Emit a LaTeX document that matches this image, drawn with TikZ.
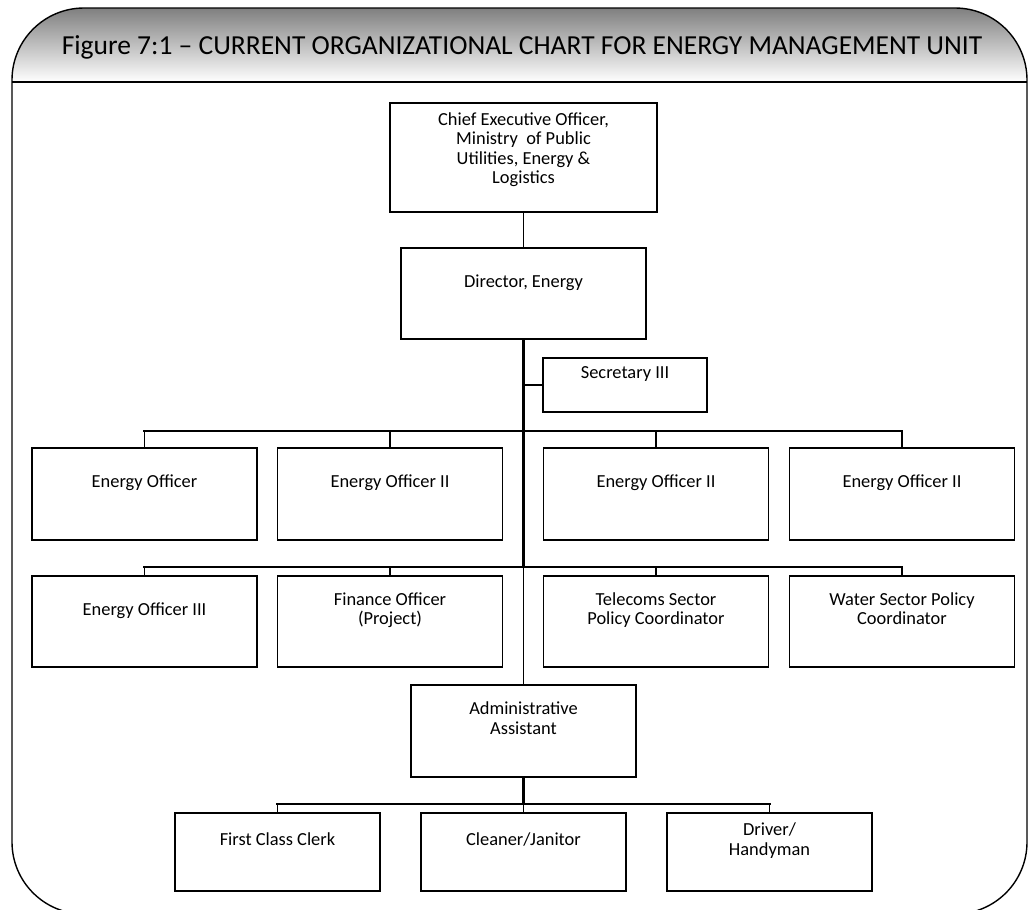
\documentclass[tikz,border=0pt]{standalone}
\usepackage{fontspec}
\setmainfont{Carlito}
\newcommand\boxfont{\fontsize{18.4}{19.5}\selectfont}
\newcommand\titlefont{\fontsize{27.5}{30}\selectfont}
\begin{document}
\begin{tikzpicture}[x=1pt,y=-1pt,
  box/.style={draw, line width=1.5pt, fill=white, inner sep=0pt, align=center, font=\boxfont},
  rowbox/.style={box, minimum width=225, minimum height=92},
  lowbox/.style={box, minimum width=205, minimum height=78},
  link/.style={line width=1.7pt},
  trunk/.style={line width=3pt},
  bus/.style={line width=2.2pt, line cap=rect}]
\useasboundingbox (0,0) rectangle (1028,910);

% frame with shaded title band
\begin{scope}
  \clip (0,0) rectangle (1028,910);
  \begin{scope}
    \clip[rounded corners=72pt] (12,8) rectangle (1027,914);
    \shade[top color=black!50, bottom color=white] (0,8) rectangle (1028,82);
  \end{scope}
  \draw[line width=1.4pt, rounded corners=72pt] (12,8) rectangle (1027,914);
  \draw[line width=2.2pt] (12,82) -- (1027,82);
\end{scope}

\node[font=\titlefont, anchor=base] (title) at (522,54)
  {Figure 7:1 – CURRENT ORGANIZATIONAL CHART FOR ENERGY MANAGEMENT UNIT};

% top of the hierarchy
\node[box, minimum width=267, minimum height=109] (ceo) at (523.5,157.5)
  {Chief Executive Officer,\\Ministry~ of Public\\Utilities, Energy \&\\Logistics\\[-6.5pt]\strut};
\node[box, minimum width=245, minimum height=91] (dir) at (523.5,293.5)
  {Director, Energy\\\strut};
\node[box, minimum width=164, minimum height=54] (secr) at (625,385)
  {Secretary III\\\strut};

% first row of officers
\node[rowbox] (r1a) at (144.5,494) {Energy Officer\\\strut};
\node[rowbox] (r1b) at (390,494) {Energy Officer II\\\strut};
\node[rowbox] (r1c) at (656,494) {Energy Officer II\\\strut};
\node[rowbox] (r1d) at (902,494) {Energy Officer II\\\strut};

% second row of officers
\node[rowbox, minimum height=91] (r2a) at (144.5,621.5) {Energy Officer III\\\strut};
\node[rowbox, minimum height=91] (r2b) at (390,621.5) {Finance Officer\\(Project)\\\strut};
\node[rowbox, minimum height=91] (r2c) at (656,621.5) {Telecoms Sector\\Policy Coordinator\\\strut};
\node[rowbox, minimum height=91] (r2d) at (902,621.5) {Water Sector Policy\\Coordinator\\\strut};

% administration
\node[rowbox] (adm) at (523.5,731) {Administrative\\Assistant\\\strut};
\node[lowbox] (b1) at (277.5,852) {First Class Clerk\\\strut};
\node[lowbox] (b2) at (523.5,852) {Cleaner/Janitor\\\strut};
\node[lowbox] (b3) at (769.5,852) {Driver/\\Handyman\\\strut};

% junction points on the main line
\coordinate (jsec) at (523.5,385);
\coordinate (bus1) at (523.5,431);
\coordinate (bus2) at (523.5,567);
\coordinate (bus3) at (523.5,804);

% reporting lines
\draw[link] (ceo.south) -- (dir.north);
\draw[trunk] (dir.south) -- (bus2);
\draw[link] (bus2) -- (adm.north);
\draw[trunk] (adm.south) -- (bus3);
\draw[link] (jsec) -- (secr.west);

\draw[bus] (r1a.north |- bus1) -- (r1d.north |- bus1);
\foreach \n in {r1a,r1b,r1c,r1d} \draw[link] (\n.north |- bus1) -- (\n.north);
\draw[bus] (r2a.north |- bus2) -- (r2d.north |- bus2);
\foreach \n in {r2a,r2b,r2c,r2d} \draw[link] (\n.north |- bus2) -- (\n.north);
\draw[bus] (b1.north |- bus3) -- (b3.north |- bus3);
\foreach \n in {b1,b2,b3} \draw[link] (\n.north |- bus3) -- (\n.north);
\end{tikzpicture}
\end{document}
